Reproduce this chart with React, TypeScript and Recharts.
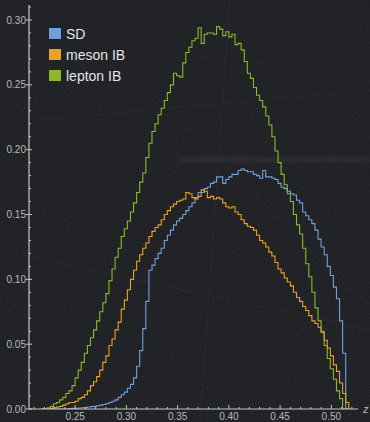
import { ComposedChart, Line, XAxis, YAxis } from "recharts";

// histogram binning along z
const binStart = 0.217;
const binWidth = 0.003;

const sd = [
  0, 0, 0, 0, 0, 0, 0, 0, 0.0002, 0.0003,
  0.0005, 0.0006, 0.0008, 0.001, 0.0012, 0.0015, 0.0018, 0.002, 0.0025, 0.003,
  0.0035, 0.004, 0.005, 0.006, 0.007, 0.009, 0.011, 0.013, 0.016, 0.019,
  0.024, 0.033, 0.045, 0.062, 0.083, 0.107, 0.111, 0.116, 0.12, 0.124,
  0.13, 0.134, 0.138, 0.142, 0.145, 0.147, 0.15, 0.153, 0.156, 0.159,
  0.163, 0.167, 0.167, 0.17, 0.171, 0.174, 0.175, 0.179, 0.179, 0.174,
  0.177, 0.179, 0.181, 0.181, 0.184, 0.185, 0.184, 0.183, 0.183, 0.181,
  0.18, 0.178, 0.184, 0.179, 0.179, 0.178, 0.177, 0.174, 0.171, 0.17,
  0.168, 0.166, 0.165, 0.161, 0.159, 0.152, 0.149, 0.146, 0.143, 0.138,
  0.131, 0.125, 0.119, 0.11, 0.103, 0.094, 0.085, 0.068, 0.043, 0,
];

const mesonIB = [
  0, 0, 0, 0.0005, 0.001, 0.0015, 0.002, 0.003, 0.004, 0.005,
  0.005, 0.006, 0.008, 0.009, 0.011, 0.014, 0.018, 0.021, 0.025, 0.03,
  0.036, 0.041, 0.049, 0.054, 0.061, 0.067, 0.077, 0.084, 0.092, 0.1,
  0.107, 0.114, 0.119, 0.124, 0.128, 0.133, 0.137, 0.14, 0.142, 0.146,
  0.15, 0.153, 0.156, 0.158, 0.16, 0.161, 0.162, 0.167, 0.166, 0.163,
  0.162, 0.164, 0.169, 0.168, 0.163, 0.164, 0.162, 0.163, 0.162, 0.159,
  0.156, 0.155, 0.156, 0.152, 0.15, 0.146, 0.143, 0.141, 0.14, 0.138,
  0.134, 0.13, 0.128, 0.125, 0.121, 0.118, 0.113, 0.108, 0.105, 0.101,
  0.098, 0.095, 0.09, 0.086, 0.083, 0.079, 0.076, 0.072, 0.068, 0.066,
  0.063, 0.059, 0.053, 0.047, 0.041, 0.034, 0.029, 0.02, 0.012, 0.005,
];

const leptonIB = [
  0, 0, 0.001, 0.002, 0.004, 0.005, 0.007, 0.009, 0.012, 0.014,
  0.018, 0.024, 0.03, 0.036, 0.043, 0.049, 0.055, 0.061, 0.068, 0.075,
  0.082, 0.089, 0.099, 0.108, 0.117, 0.124, 0.133, 0.139, 0.145, 0.152,
  0.159, 0.167, 0.175, 0.182, 0.194, 0.205, 0.214, 0.22, 0.227, 0.232,
  0.238, 0.244, 0.25, 0.259, 0.257, 0.256, 0.267, 0.275, 0.279, 0.284,
  0.286, 0.294, 0.282, 0.289, 0.29, 0.29, 0.289, 0.295, 0.293, 0.288,
  0.291, 0.287, 0.289, 0.281, 0.282, 0.277, 0.268, 0.259, 0.255, 0.248,
  0.242, 0.238, 0.233, 0.226, 0.219, 0.21, 0.199, 0.19, 0.181, 0.173,
  0.166, 0.16, 0.15, 0.142, 0.135, 0.124, 0.112, 0.102, 0.09, 0.078,
  0.068, 0.06, 0.049, 0.039, 0.031, 0.023, 0.014, 0.008, 0, 0,
];

const seriesKeys = ["sd", "mesonIB", "leptonIB"];
const seriesNames = ["SD", "meson IB", "lepton IB"];
const seriesColors = ["#6fa0dd", "#eba126", "#8fb62c"];

const xMajorTicks = [0.25, 0.3, 0.35, 0.4, 0.45, 0.5];
const yMajorTicks = [0, 0.05, 0.1, 0.15, 0.2, 0.25, 0.3];
const xAllTicks = Array.from({ length: 32 }, (_, i) => +(0.21 + i * 0.01).toFixed(2));
const yAllTicks = Array.from({ length: 32 }, (_, i) => +(i * 0.01).toFixed(2));

// step-after rows: one point per bin's left edge, closing edge drops to zero
const rows = Array.from({ length: sd.length + 1 }, (_, i) => ({
  z: +(binStart + i * binWidth).toFixed(4),
  sd: sd[i] ?? 0,
  mesonIB: mesonIB[i] ?? 0,
  leptonIB: leptonIB[i] ?? 0,
}));

const axisColor = "#c4c6c8";
const labelColor = "#b8b9bb";
const font = "'Liberation Sans', Arial, sans-serif";

const isMajor = (list: number[], v: number) => list.some((t) => Math.abs(t - v) < 1e-6);

function XTick(props: any) {
  const { x, y, payload } = props;
  const major = isMajor(xMajorTicks, payload.value);
  return (
    <g>
      <line x1={x} x2={x} y1={y} y2={y - (major ? 4 : 2)} stroke={axisColor} strokeWidth={1} />
      {major && (
        <text x={x} y={y + 11} textAnchor="middle" fill={labelColor} fontSize={10} fontFamily={font}>
          {payload.value.toFixed(2)}
        </text>
      )}
    </g>
  );
}

function YTick(props: any) {
  const { x, y, payload } = props;
  const major = isMajor(yMajorTicks, payload.value);
  return (
    <g>
      {major ? (
        <line x1={x - 3} x2={x + 3} y1={y} y2={y} stroke={axisColor} strokeWidth={1} />
      ) : (
        <line x1={x} x2={x + 2} y1={y} y2={y} stroke={axisColor} strokeWidth={1} />
      )}
      {major && (
        <text x={x - 3} y={y + 3.5} textAnchor="end" fill={labelColor} fontSize={10} fontFamily={font}>
          {payload.value.toFixed(2)}
        </text>
      )}
    </g>
  );
}

// dark scratched backdrop behind the plot
function Backdrop() {
  return (
    <svg width={370} height={422} style={{ position: "absolute", left: 0, top: 0 }}>
      <defs>
        <filter id="grain">
          <feTurbulence type="fractalNoise" baseFrequency="0.9" numOctaves={2} seed={4} />
          <feColorMatrix
            type="matrix"
            values="0 0 0 0 0.75  0 0 0 0 0.78  0 0 0 0 0.82  0 0 0 0.1 0"
          />
        </filter>
        <filter id="haze">
          <feGaussianBlur stdDeviation="2.5" />
        </filter>
      </defs>
      <rect width={370} height={422} fill="#17191c" />
      <rect width={370} height={422} filter="url(#grain)" />
      <rect x={180} y={157} width={190} height={5} fill="#ffffff" opacity={0.06} filter="url(#haze)" />
      <g stroke="#ffffff" strokeWidth={0.6} opacity={0.05}>
        <line x1={120} y1={60} x2={360} y2={300} />
        <line x1={0} y1={250} x2={370} y2={330} />
        <line x1={230} y1={0} x2={200} y2={422} />
        <line x1={40} y1={120} x2={370} y2={90} />
      </g>
    </svg>
  );
}

function LegendBox() {
  return (
    <div style={{ position: "absolute", left: 49, top: 23, fontFamily: font }}>
      {seriesNames.map((name, i) => (
        <div key={name} style={{ display: "flex", alignItems: "center", height: 21 }}>
          <div style={{ width: 12, height: 11, background: seriesColors[i], marginRight: 5 }} />
          <span style={{ color: "#e4e5e6", fontSize: 14, lineHeight: "14px" }}>{name}</span>
        </div>
      ))}
    </div>
  );
}

export default function App() {
  return (
    <div style={{ position: "fixed", left: 0, top: 0, width: 370, height: 422, overflow: "hidden" }}>
      <Backdrop />
      <div style={{ position: "absolute", left: 0, top: 0 }}>
        <ComposedChart width={370} height={422} data={rows} margin={{ top: 5, right: 12, left: 0, bottom: 0 }}>
          <XAxis
            dataKey="z"
            type="number"
            domain={[0.205, 0.526]}
            allowDataOverflow
            ticks={xAllTicks}
            interval={0}
            height={13}
            tickSize={0}
            tickMargin={0}
            tickLine={false}
            axisLine={{ stroke: axisColor, strokeWidth: 1.2 }}
            tick={<XTick />}
          />
          <YAxis
            type="number"
            domain={[0, 0.3116]}
            allowDataOverflow
            ticks={yAllTicks}
            interval={0}
            width={29}
            tickSize={0}
            tickMargin={0}
            tickLine={false}
            axisLine={{ stroke: axisColor, strokeWidth: 1.2 }}
            tick={<YTick />}
          />
          {seriesKeys.map((key, i) => (
            <Line
              key={key}
              dataKey={key}
              type="stepAfter"
              stroke={seriesColors[i]}
              strokeWidth={1.1}
              dot={false}
              activeDot={false}
              isAnimationActive={false}
            />
          ))}
        </ComposedChart>
      </div>
      <LegendBox />
      <div
        style={{
          position: "absolute",
          left: 363,
          top: 403,
          color: labelColor,
          fontFamily: font,
          fontSize: 11,
          fontStyle: "italic",
        }}
      >
        z
      </div>
    </div>
  );
}
